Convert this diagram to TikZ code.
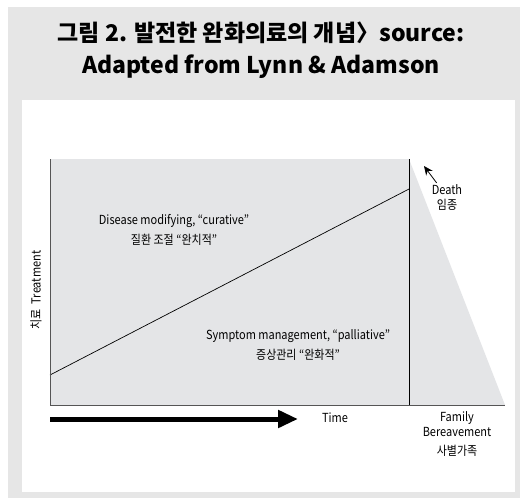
\documentclass[tikz,border=0pt]{standalone}
\usepackage{fontspec}
\setmainfont{Noto Sans CJK KR}
\newfontfamily\lblfont[FakeStretch=0.88]{Noto Sans CJK KR}
\usepackage{tikz}
\usetikzlibrary{arrows.meta,positioning}
\definecolor{PanelGray}{HTML}{E6E6E6}
\definecolor{AreaGray}{HTML}{E4E5E7}
\definecolor{AxisGray}{HTML}{555555}

\begin{document}
\begin{tikzpicture}[x=1pt, y=-1pt,
    font=\lblfont\fontsize{12.5}{15}\selectfont,
    lbl/.style={align=center, inner sep=1pt},
    axis/.style={draw=AxisGray, line width=0.9pt},
    arr/.style={-{Stealth[length=9pt,width=8pt]}, line width=0.8pt},
    timearr/.style={-{Triangle[length=20pt,width=17pt]}, line width=5pt}
]
\useasboundingbox (0,0) rectangle (522,499);
\fill[PanelGray] (8,7) rectangle (520,498);
\fill[white] (22,100) rectangle (515,492);
\node[font=\bfseries\fontsize{23}{32}\selectfont, align=center] (title) at (261,50)
    {그림 2. 발전한 완화의료의 개념〉source:\\Adapted from Lynn \& Adamson};
% plot area
\coordinate (origin) at (50,405);
\coordinate (ytop) at (50,159);
\coordinate (deathtop) at (409,159);
\coordinate (deathbot) at (409,405);
\coordinate (xend) at (505,405);
\coordinate (splitlo) at (50,375);
\coordinate (splithi) at (409,189);
\fill[AreaGray] (origin) rectangle (deathtop);
\fill[AreaGray] (deathtop) -- (xend) -- (deathbot) -- cycle;
\draw[line width=0.7pt] (splitlo) -- (splithi);
\draw[line width=0.8pt] (deathtop) -- (deathbot);
\draw[axis] (ytop) -- (origin) -- (xend);
% labels
\node[lbl] (curative) at (174,230) {Disease modifying, “curative”\\[5pt]질환 조절 “완치적”};
\node[lbl] (palliative) at (298,345) {Symptom management, “palliative”\\[5pt]증상관리 “완화적”};
\node[lbl, rotate=90] (treat) at (36,290) {치료\ \ Treatment};
\node[lbl] (death) at (447,197) {Death\\임종};
\coordinate (deathpt) at (424,166);
\draw[arr] ([xshift=6pt]death.north west) -- (deathpt);
\coordinate (tstart) at (50,419);
\coordinate (ttip) at (298,419);
\draw[timearr] (tstart) -- (ttip);
\node[lbl] (time) at (335,418) {Time};
\node[lbl] (family) at (457,434) {Family\\Bereavement\\[4pt]사별가족};
\end{tikzpicture}
\end{document}
